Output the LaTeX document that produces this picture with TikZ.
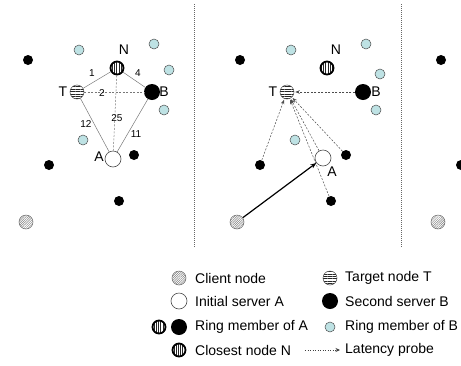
\documentclass[tikz,border=0pt]{standalone}
\usepackage{fontspec}
\setmainfont{Liberation Sans}
\usetikzlibrary{arrows.meta,patterns.meta}
\definecolor{cyanlt}{RGB}{190,226,228}
\definecolor{edgegray}{RGB}{120,120,120}
\begin{document}
\begin{tikzpicture}[x=1pt,y=-1pt,
  blk/.style={circle,fill=black,inner sep=0pt,minimum size=10pt},
  ringb/.style={circle,draw=black!70,fill=cyanlt,inner sep=0pt,minimum size=10pt,line width=0.5pt},
  clientnode/.style={circle,draw=black!60,pattern={Lines[angle=45,distance=1.6pt,line width=0.5pt]},pattern color=black!50,inner sep=0pt,minimum size=14pt,line width=0.5pt},
  targetnode/.style={circle,draw=black!70,pattern={Lines[angle=0,distance=2.4pt,line width=0.5pt]},pattern color=black!85,inner sep=0pt,minimum size=14pt,line width=0.5pt},
  closestnode/.style={circle,draw=black,pattern={Lines[angle=90,distance=2.2pt,line width=0.5pt]},pattern color=black!85,inner sep=0pt,minimum size=13pt,line width=1.8pt},
  secondnode/.style={circle,fill=black,inner sep=0pt,minimum size=16pt},
  initialnode/.style={circle,draw=black!70,fill=white,inner sep=0pt,minimum size=16pt,line width=0.6pt},
  biglbl/.style={inner sep=0pt,font=\fontsize{14}{16}\selectfont},
  edgelbl/.style={inner sep=0pt,font=\fontsize{10}{12}\selectfont},
  legtxt/.style={anchor=west,inner sep=0pt,font=\fontsize{14}{16}\selectfont},
  sedge/.style={draw=edgegray,line width=0.5pt},
  dedge/.style={draw=edgegray,line width=0.5pt,dash pattern=on 2pt off 1.5pt},
  probe/.style={draw=black!70,line width=0.5pt,dash pattern=on 2pt off 1.5pt,-{Stealth[length=4.5pt,width=3.5pt]},shorten >=1pt},
  divider/.style={draw=black!60,line width=1pt,dash pattern=on 1pt off 1pt}
]
\useasboundingbox (0,0) rectangle (461,365);

% ---------- Panel 1 ----------
\node[blk] (b1a) at (28,60) {};
\node[ringb] (c1a) at (79,50) {};
\node[ringb] (c1b) at (154,44) {};
\node[ringb] (c1c) at (169,70) {};
\node[ringb] (c1d) at (164,110) {};
\node[ringb] (c1e) at (83,140) {};
\node[blk] (b1b) at (134,155) {};
\node[blk] (b1c) at (49,165) {};
\node[blk] (b1d) at (119,201) {};
\node[clientnode] (cl1) at (26,222) {};

\node[closestnode] (N1) at (117,68) {};
\node[targetnode] (T1) at (77,92) {};
\node[secondnode] (B1) at (152,92) {};
\node[initialnode] (A1) at (113,159) {};

\draw[sedge] (T1) -- (N1);
\draw[sedge] (N1) -- (B1);
\draw[dedge] (T1) -- (B1);
\draw[dedge] (N1) -- (A1);
\draw[sedge] (T1) -- (A1);
\draw[sedge] (B1) -- (A1);

\node[biglbl] (lN1) at (124,50) {N};
\node[biglbl] (lT1) at (63,92) {T};
\node[biglbl] (lB1) at (164,92) {B};
\node[biglbl] (lA1) at (99,157) {A};

\node[edgelbl] (e1) at (92,73) {1};
\node[edgelbl] (e4) at (138,73) {4};
\node[edgelbl] (e2) at (102,93) {2};
\node[edgelbl] (e25) at (117,118) {25};
\node[edgelbl] (e12) at (86,124) {12};
\node[edgelbl] (e11) at (136,134) {11};

\draw[divider] (194,4) -- (194,248);

% ---------- Panel 2 ----------
\node[blk] (b2a) at (240,60) {};
\node[ringb] (c2a) at (291,50) {};
\node[ringb] (c2b) at (366,44) {};
\node[ringb] (c2c) at (380,74) {};
\node[ringb] (c2d) at (376,110) {};
\node[ringb] (c2e) at (295,140) {};
\node[blk] (b2b) at (346,155) {};
\node[blk] (b2c) at (260,165) {};
\node[blk] (b2d) at (331,201) {};
\node[clientnode] (cl2) at (237,222) {};

\node[closestnode] (N2) at (327,68) {};
\node[targetnode] (T2) at (287,92) {};
\node[secondnode] (B2) at (363,92) {};
\node[initialnode] (A2) at (323,158) {};

\node[biglbl] (lN2) at (336,50) {N};
\node[biglbl] (lT2) at (273,92) {T};
\node[biglbl] (lB2) at (376,92) {B};
\node[biglbl] (lA2) at (332,172) {A};

\draw[probe] (B2) -- (T2);
\draw[probe] (b2c) -- (T2);
\draw[probe] (b2d) -- (T2);
\draw[probe] (A2) -- (T2);
\draw[probe] (b2b) -- (T2);
\draw[line width=1.2pt,-{Stealth[length=6pt,width=4.5pt]}] (cl2) -- (A2);

\draw[divider] (401,4) -- (401,248);

% ---------- Panel 3 (partial) ----------
\node[blk] (b3a) at (441,60) {};
\node[blk] (b3b) at (461,165) {};
\node[clientnode] (cl3) at (438,222) {};

% ---------- Legend ----------
\node[clientnode] (gcl) at (179,278) {};
\node[legtxt] (tcl) at (195,278) {Client node};
\node[initialnode] (gin) at (179,301) {};
\node[legtxt] (tin) at (195,301) {Initial server A};
\node[closestnode] (gra1) at (159,327) {};
\node[secondnode] (gra2) at (179,327) {};
\node[legtxt] (tra) at (195,327) {Ring member of A};
\node[closestnode] (gcn) at (179,350) {};
\node[legtxt] (tcn) at (195,350) {Closest node N};

\node[targetnode] (gtg) at (330,278) {};
\node[legtxt] (ttg) at (345,278) {Target node T};
\node[secondnode] (gsb) at (330,301) {};
\node[legtxt] (tsb) at (345,301) {Second server B};
\node[ringb] (grb) at (330,327) {};
\node[legtxt] (trb) at (345,327) {Ring member of B};
\coordinate (pa) at (305,350);
\coordinate (pb) at (340,350);
\draw[draw=black!75,line width=0.6pt,dash pattern=on 1pt off 1.5pt,-{Stealth[length=4.5pt,width=4pt]}] (pa) -- (pb);
\node[legtxt] (tlp) at (345,350) {Latency probe};
\end{tikzpicture}
\end{document}
